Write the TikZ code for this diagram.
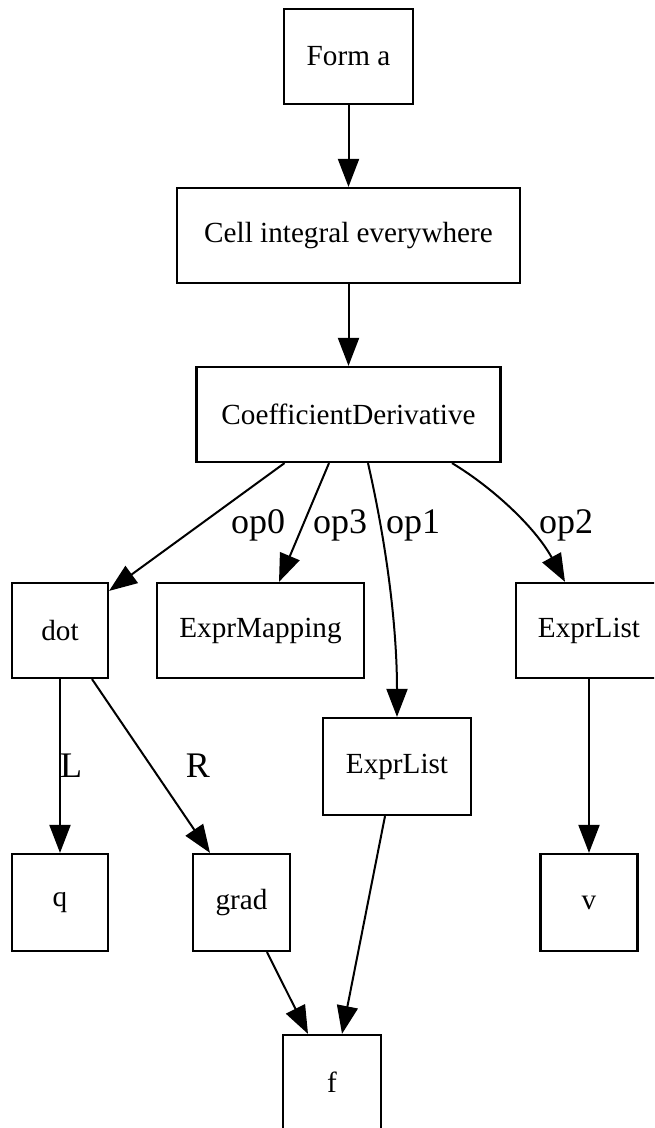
\documentclass[tikz,border=0pt]{standalone}
\usepackage{fontspec}
\setmainfont{Liberation Serif}
\usetikzlibrary{arrows.meta}
\begin{document}
\begin{tikzpicture}[x=0.5pt,y=-0.5pt,
  box/.style={draw, line width=1.1pt, inner sep=0pt, minimum height=47.5pt,
    font=\fontsize{14.6}{17}\selectfont},
  edge/.style={line width=1pt, -{Triangle[length=14pt,width=10.5pt]}},
  elabel/.style={font=\fontsize{18}{21}\selectfont, anchor=base, inner sep=0pt}]
\useasboundingbox (0,0) rectangle (654,1128);
\clip (0,0) rectangle (654,1128);

% nodes
\node[box, minimum width=64.5pt]  (forma) at (348.5,56.5)  {Form a};
\node[box, minimum width=171.5pt] (cell)  at (348.5,235.5) {Cell integral everywhere};
\node[box, minimum width=152pt]   (coef)  at (348.5,414.5) {CoefficientDerivative};
\node[box, minimum width=48pt]    (dot)   at (60,630.5)    {dot};
\node[box, minimum width=103.5pt] (map)   at (260.5,630.5) {ExprMapping};
\node[box, minimum width=73pt]    (listR) at (589,630.5)   {ExprList};
\node[box, minimum width=74pt, minimum height=48.5pt] (listM) at (397,766.5) {ExprList};
\node[box, minimum width=48pt, minimum height=48.5pt]   (q)    at (60,902.5)    {q};
\node[box, minimum width=48.5pt, minimum height=48.5pt] (grad) at (241.5,902.5) {grad};
\node[box, minimum width=48.5pt, minimum height=48.5pt] (v)    at (589,902.5)   {v};
\node[box, minimum width=49pt]    (f)     at (332,1082.5)  {f};

% connectors
\draw[edge] (forma.south) -- (cell.north);
\draw[edge] (cell.south) -- (coef.north);
\draw[edge] ([xshift=-32pt]coef.south) -- ([yshift=-4.5pt]dot.north east);
\draw[edge] ([xshift=-9.75pt]coef.south) -- ([xshift=9.25pt]map.north);
\draw[edge] ([xshift=9.75pt]coef.south) .. controls +(22,97) and +(0,-78) .. (listM.north);
\draw[edge] ([xshift=51.75pt]coef.south) .. controls +(40,24) and +(-30,-55) .. ([xshift=-12pt]listR.north);
\draw[edge] (dot.south) -- (q.north);
\draw[edge] ([xshift=16pt]dot.south) -- ([xshift=-15.75pt]grad.north);
\draw[edge] (listR.south) -- (v.north);
\draw[edge] ([xshift=-6pt]listM.south) -- ([xshift=5pt]f.north);
\draw[edge] ([xshift=12.75pt]grad.south) -- ([xshift=-12pt]f.north);

% edge labels
\node[elabel] (lop0) at (258,533) {op0};
\node[elabel] (lop3) at (340,533) {op3};
\node[elabel] (lop1) at (413,533) {op1};
\node[elabel] (lop2) at (566,533) {op2};
\node[elabel] (lL)   at (71,777)  {L};
\node[elabel] (lR)   at (198,777) {R};
\end{tikzpicture}
\end{document}
